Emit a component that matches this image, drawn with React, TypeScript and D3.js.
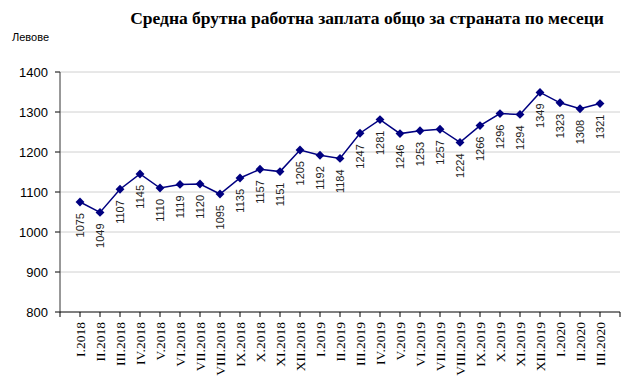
import React from "react";
import * as d3 from "d3";

const title = "Средна брутна работна заплата общо за страната по месеци";
const yUnit = "Левове";
const months = ["I", "II", "III", "IV", "V", "VI", "VII", "VIII", "IX", "X", "XI", "XII"];
const categories = [
  ...months.map((m) => m + ".2018"),
  ...months.map((m) => m + ".2019"),
  "I.2020", "II.2020", "III.2020",
];
const values = [1075, 1049, 1107, 1145, 1110, 1119, 1120, 1095, 1135, 1157, 1151, 1205, 1192, 1184, 1247, 1281, 1246, 1253, 1257, 1224, 1266, 1296, 1294, 1349, 1323, 1308, 1321];
const yTicks = [800, 900, 1000, 1100, 1200, 1300, 1400];

export default function App() {
  const W = 630, H = 382;
  const left = 60, right = 620, top = 72, bottom = 312;
  const x = d3.scalePoint<number>().domain(d3.range(categories.length)).range([80, 600]);
  const y = d3.scaleLinear().domain([800, 1400]).range([bottom, top]);
  const line = d3.line<number>().x((_, i) => x(i)!).y((d) => y(d));
  const diamond = d3.symbol().type(d3.symbolDiamond2 ?? d3.symbolDiamond).size(50)();
  return (
    <svg width={W} height={H} style={{ position: "absolute", left: 0, top: 0 }}>
      <rect width={W} height={H} fill="#fff" />
      <text x={367} y={24} textAnchor="middle" fontFamily="Liberation Serif" fontWeight="bold" fontSize={17.5} fill="#000">{title}</text>
      <text x={12} y={41} fontFamily="Liberation Sans" fontSize={11} fill="#000">{yUnit}</text>
      {yTicks.map((t) => (
        <g key={t}>
          {t !== 800 && <line x1={left} x2={right} y1={y(t)} y2={y(t)} stroke="#d0d0d0" strokeWidth={1} />}
          <line x1={left - 5} x2={left} y1={y(t)} y2={y(t)} stroke="#000" />
          <text x={48} y={y(t) + 4.5} textAnchor="end" fontFamily="Liberation Sans" fontSize={13} fill="#000">{t}</text>
        </g>
      ))}
      <line x1={left} x2={left} y1={top} y2={bottom} stroke="#333" />
      <line x1={left} x2={right} y1={bottom} y2={bottom} stroke="#000" />
      {[...categories.map((_, i) => x(i)!), left, right].map((px, i) => (
        <line key={i} x1={px} x2={px} y1={bottom} y2={bottom + 5} stroke="#000" />
      ))}
      {categories.map((c, i) => (
        <text key={c} transform={`translate(${x(i)! + 5},${bottom + 10}) rotate(-90)`} textAnchor="end" fontFamily="Liberation Serif" fontSize={13.5} fill="#000">{c}</text>
      ))}
      <path d={line(values)!} fill="none" stroke="#000080" strokeWidth={1.5} />
      {values.map((v, i) => (
        <path key={i} d={diamond} transform={`translate(${x(i)},${y(v)})`} fill="#000080" />
      ))}
      {values.map((v, i) => (
        <text key={i} transform={`translate(${x(i)! + 4},${y(v) + 11}) rotate(-90)`} textAnchor="end" fontFamily="Liberation Sans" fontSize={11} fill="#222">{v}</text>
      ))}
    </svg>
  );
}
